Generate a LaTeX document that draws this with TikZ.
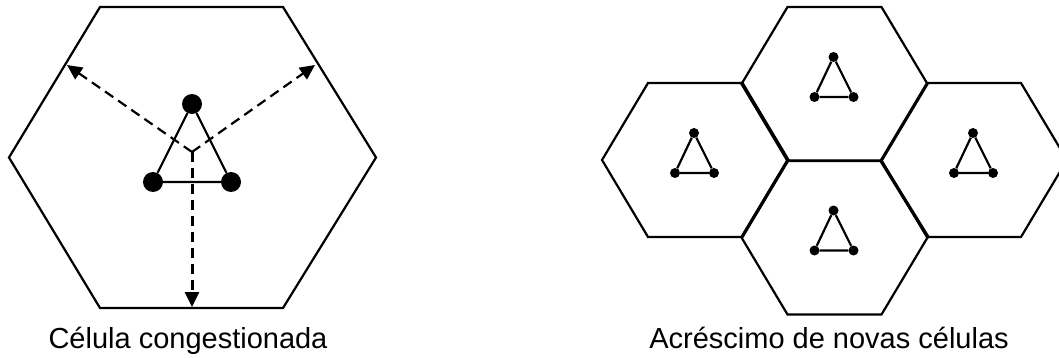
\documentclass[tikz,border=0pt]{standalone}
\usepackage{fontspec}
\setmainfont{Liberation Sans}
\usetikzlibrary{arrows.meta}
\begin{document}
\begin{tikzpicture}[x=1pt,y=-1pt,
  hexline/.style={line width=2.2pt,line join=miter},
  sharedline/.style={line width=3.2pt,line cap=round},
  bigdot/.style={circle,fill=black,inner sep=0pt,minimum size=20pt},
  smalldot/.style={circle,fill=black,inner sep=0pt,minimum size=10pt},
  triline/.style={line width=2.2pt},
  dasharrow/.style={line width=2.2pt,dash pattern=on 10pt off 6pt,-{Triangle[length=15pt,width=14pt]}},
  caption/.style={anchor=base,inner sep=0pt,font=\fontsize{29}{35}\selectfont}]
\clip (0,0) rectangle (1059,358);
\useasboundingbox (0,0) rectangle (1059,358);
% left hexagon
\draw[hexline] (100,7) -- (283,7) -- (376,157.5) -- (283,308) -- (100,308) -- (9,157.5) -- cycle;
% left triangle
\node[bigdot] (lt) at (192,104) {};
\node[bigdot] (ll) at (153,182) {};
\node[bigdot] (lr) at (231,182) {};
\draw[triline] (lt) -- (ll) -- (lr) -- (lt);
% dashed arrows
\coordinate (c) at (192,152);
\coordinate (ul) at (67,65);
\coordinate (ur) at (315,65);
\coordinate (dn) at (192,307);
\draw[dasharrow] (c) -- (ul);
\draw[dasharrow] (c) -- (ur);
\draw[dasharrow,line width=3pt] (c) -- (dn);
\node[caption] (cap1) at (188,348) {Célula congestionada};
% right honeycomb
\foreach \n/\cx/\cy in {a/834.5/84, b/695/160, c/834.5/237.5, d/974/160}{
  \draw[hexline] (\cx-47,\cy-77) -- (\cx+47,\cy-77) -- (\cx+93,\cy) -- (\cx+47,\cy+77) -- (\cx-47,\cy+77) -- (\cx-93,\cy) -- cycle;
  \node[smalldot] (t\n) at (\cx-1,\cy-27) {};
  \node[smalldot] (l\n) at (\cx-20,\cy+13) {};
  \node[smalldot] (r\n) at (\cx+19,\cy+13) {};
  \draw[triline] (t\n) -- (l\n) -- (r\n) -- (t\n);
}
\draw[sharedline] (742,83) -- (788,160) -- (742,237);
\draw[sharedline] (881,161) -- (928,237);
\node[caption] (cap2) at (829,348) {Acréscimo de novas células};
\end{tikzpicture}
\end{document}
